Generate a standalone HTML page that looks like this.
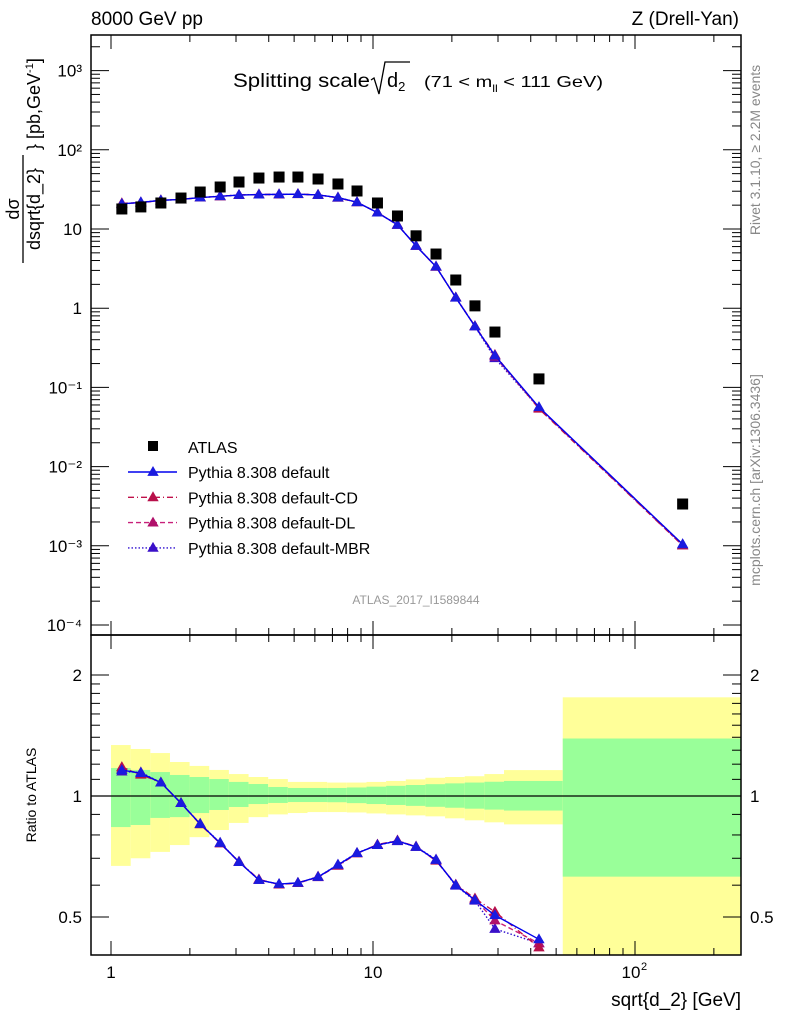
<!DOCTYPE html>
<html><head><meta charset="utf-8"><style>
html,body{margin:0;padding:0;background:#fff;}
svg{display:block;font-family:"Liberation Sans",sans-serif;}
</style></head><body>
<svg id="c" width="786" height="1024" viewBox="0 0 786 1024" xmlns="http://www.w3.org/2000/svg">
<text x="91" y="25" font-size="19">8000 GeV pp</text>
<text x="739" y="25" font-size="19" text-anchor="end">Z (Drell-Yan)</text>
<text x="233" y="87" font-size="19" textLength="137" lengthAdjust="spacingAndGlyphs">Splitting scale</text>
<path d="M371,80 L374,78 L379,94 L385,62 L410,62" fill="none" stroke="#000" stroke-width="1.3"/>
<text x="387" y="87" font-size="20">d<tspan font-size="13" dy="4">2</tspan></text>
<text x="424" y="87" font-size="16" textLength="179" lengthAdjust="spacingAndGlyphs">(71 &lt; m<tspan font-size="10" dy="5">ll</tspan><tspan dy="-5"> &lt; 111 GeV)</tspan></text>
<text transform="translate(760,150) rotate(-90)" font-size="14" fill="#888" text-anchor="middle">Rivet 3.1.10, ≥ 2.2M events</text>
<text transform="translate(760,480) rotate(-90)" font-size="14" fill="#888" text-anchor="middle">mcplots.cern.ch [arXiv:1306.3436]</text>
<text x="416" y="604" font-size="12" fill="#999" text-anchor="middle">ATLAS_2017_I1589844</text>
<g transform="translate(23,209) rotate(-90)">
<text x="0" y="-4" font-size="18" text-anchor="middle">dσ</text>
<line x1="-54" x2="54" y1="0" y2="0" stroke="#000" stroke-width="1.3"/>
<text x="0" y="17" font-size="18" text-anchor="middle">dsqrt{d_2}</text>
</g>
<text transform="translate(40,150) rotate(-90)" font-size="18">} [pb,GeV<tspan font-size="11" dy="-7">-1</tspan><tspan dy="7">]</tspan></text>
<text transform="translate(36,795) rotate(-90)" font-size="14" text-anchor="middle">Ratio to ATLAS</text>
<text x="741" y="1006" font-size="19" text-anchor="end">sqrt{d_2} [GeV]</text>
</svg>
<script>
const xCenters=[1.10,1.30,1.55,1.85,2.19,2.61,3.08,3.67,4.38,5.17,6.17,7.35,8.69,10.4,12.4,14.6,17.4,20.7,24.5,29.2,43.0,152];
const binEdges=[1.0,1.189,1.413,1.679,1.995,2.371,2.818,3.350,3.981,4.732,5.623,6.683,7.943,9.441,11.22,13.34,15.85,18.84,22.39,26.61,31.62,53.0,260];
const atlas=[17.9,19.0,21.3,24.6,29.3,33.9,39.2,44.0,45.3,45.3,42.8,37.0,30.2,21.3,14.6,8.2,4.83,2.27,1.07,0.50,0.128,0.00337];
const ratioDefault=[1.16,1.14,1.08,0.96,0.852,0.764,0.685,0.618,0.604,0.608,0.629,0.674,0.721,0.755,0.773,0.747,0.693,0.600,0.551,0.505,0.440,0.31];
const ratioCD=[1.18,1.13,1.08,0.96,0.85,0.762,0.686,0.62,0.602,0.608,0.63,0.67,0.72,0.757,0.775,0.748,0.69,0.602,0.556,0.515,0.420,0.30];
const ratioDL=[1.17,1.135,1.08,0.96,0.852,0.763,0.685,0.619,0.603,0.607,0.628,0.672,0.72,0.756,0.774,0.747,0.692,0.601,0.553,0.49,0.43,0.30];
const ratioMBR=[1.15,1.145,1.08,0.96,0.853,0.765,0.686,0.618,0.603,0.608,0.629,0.675,0.722,0.755,0.772,0.748,0.695,0.598,0.549,0.467,0.43,0.31];
const yellowUp=[1.339,1.309,1.279,1.215,1.188,1.161,1.134,1.115,1.102,1.084,1.084,1.08,1.08,1.084,1.09,1.10,1.11,1.115,1.12,1.134,1.16,1.76];
const yellowLo=[0.67,0.70,0.726,0.755,0.79,0.823,0.857,0.886,0.90,0.907,0.912,0.912,0.91,0.905,0.90,0.895,0.89,0.88,0.87,0.86,0.85,0.3];
const greenUp=[1.174,1.161,1.147,1.128,1.115,1.102,1.084,1.071,1.053,1.047,1.047,1.047,1.05,1.055,1.06,1.065,1.07,1.075,1.08,1.085,1.09,1.39];
const greenLo=[0.837,0.847,0.882,0.886,0.907,0.923,0.939,0.955,0.961,0.966,0.966,0.965,0.96,0.955,0.95,0.945,0.94,0.935,0.93,0.925,0.92,0.63];
const yTickLabels=["10⁻⁴","10⁻³","10⁻²","10⁻¹","1","10","10²","10³"];
const rTickVals=[0.5,1,2];

const NS="http://www.w3.org/2000/svg",svg=document.getElementById('c');
const L=91,R=741,T=35,M=635,B=955;
const X=v=>111+262*Math.log10(v);
const Y=v=>229-79.2*(Math.log10(v)-1);
const RY=v=>796-121*Math.log2(v);
const RMIN=0.402;
function mk(tag,at,parent){const e=document.createElementNS(NS,tag);for(const k in at)e.setAttribute(k,at[k]);(parent||svg).appendChild(e);return e;}
const defs=mk('defs',{});
const cp1=mk('clipPath',{id:'cm'},defs);mk('rect',{x:L,y:T,width:R-L,height:M-T},cp1);
const cp2=mk('clipPath',{id:'cr'},defs);mk('rect',{x:L,y:M,width:R-L,height:B-M},cp2);

const gb=mk('g',{'clip-path':'url(#cr)'});


for(let i=0;i<xCenters.length;i++){
  const x0=X(binEdges[i]),x1=X(binEdges[i+1]);
  const y1=mk('rect',{x:x0,y:RY(yellowUp[i]),width:x1-x0,height:RY(yellowLo[i])-RY(yellowUp[i]),fill:'#ffff99'},gb);
  
  
  const g1=mk('rect',{x:x0,y:RY(greenUp[i]),width:x1-x0,height:RY(greenLo[i])-RY(greenUp[i]),fill:'#99ff99'},gb);
  
  
}
mk('line',{x1:L,x2:R,y1:RY(1),y2:RY(1),stroke:'#000','stroke-width':1.3});

const series=[
 {name:'default',r:ratioDefault,col:'#0000ee',dash:'',mc:'#1a1adf'},
 {name:'default-CD',r:ratioCD,col:'#c0104a',dash:'6,3,1,3',mc:'#b8104a'},
 {name:'default-DL',r:ratioDL,col:'#c8207a',dash:'5,3',mc:'#b0106a'},
 {name:'default-MBR',r:ratioMBR,col:'#3010d0',dash:'1.5,2',mc:'#3a10c8'}
];
function tri(x,y,s,fill,parent){return mk('path',{d:`M${x},${y-s} L${x+s*0.95},${y+s*0.65} L${x-s*0.95},${y+s*0.65}Z`,fill:fill},parent);}
const gm=mk('g',{'clip-path':'url(#cm)'});
const gr=mk('g',{'clip-path':'url(#cr)'});
[...series].reverse().forEach(s=>{
  const mp=xCenters.map((x,i)=>X(x)+','+Y(atlas[i]*s.r[i])).join(' ');
  const l1=mk('polyline',{points:mp,fill:'none',stroke:s.col,'stroke-width':1.4,'stroke-dasharray':s.dash},gm);
  
  
  const idx=xCenters.map((x,i)=>i).filter(i=>s.r[i]>=RMIN*0.8);
  const rp=idx.map(i=>X(xCenters[i])+','+RY(s.r[i])).join(' ');
  const l2=mk('polyline',{points:rp,fill:'none',stroke:s.col,'stroke-width':1.4,'stroke-dasharray':s.dash},gr);
  
  
  xCenters.forEach((x,i)=>{
    const t=tri(X(x),Y(atlas[i]*s.r[i]),6,s.mc,gm);
    
    
  });
  idx.forEach(i=>{
    const t2=tri(X(xCenters[i]),RY(s.r[i]),6,s.mc,gr);
    
    
  });
});
xCenters.forEach((x,i)=>{
  const r=mk('rect',{x:X(x)-5.5,y:Y(atlas[i])-5.5,width:11,height:11,fill:'#000'},gm);
  
  
});

mk('rect',{x:L,y:T,width:R-L,height:M-T,fill:'none',stroke:'#000','stroke-width':1.5});
mk('rect',{x:L,y:M,width:R-L,height:B-M,fill:'none',stroke:'#000','stroke-width':1.5});
const ax=mk('g',{stroke:'#000','stroke-width':1});
for(let d=0;d<=2;d++)for(let k=1;k<=9;k++){
  const v=k*Math.pow(10,d);const x=X(v);if(x<L||x>R)continue;
  const len=k===1?14:7;
  mk('line',{x1:x,x2:x,y1:M,y2:M-len},ax);mk('line',{x1:x,x2:x,y1:T,y2:T+len},ax);
  mk('line',{x1:x,x2:x,y1:B,y2:B-len},ax);mk('line',{x1:x,x2:x,y1:M,y2:M+len},ax);
}
[[1,'1'],[10,'10']].forEach(([v,t])=>{const e=mk('text',{x:X(v),y:978,'font-size':17,'text-anchor':'middle'});e.textContent=t;});
{const e=mk('text',{x:X(100)-4,y:978,'font-size':17,'text-anchor':'middle'});e.textContent='10';
 const s=mk('text',{x:X(100)+6,y:970,'font-size':11});s.textContent='2';}
for(let p=-4;p<=3;p++){
  for(let k=1;k<=9;k++){
    const y=Y(k*Math.pow(10,p));if(y<T||y>M)continue;
    const len=k===1?18:9;
    mk('line',{x1:L,x2:L+len,y1:y,y2:y},ax);mk('line',{x1:R,x2:R-len,y1:y,y2:y},ax);
  }
  const e=mk('text',{x:82,y:Y(Math.pow(10,p))+6,'font-size':17,'text-anchor':'end'});
  e.textContent=yTickLabels[p+4];
  
  
}
[0.5,0.6,0.7,0.8,0.9,1,1.1,1.2,1.3,1.4,1.5,1.6,1.7,1.8,1.9,2].forEach(v=>{
  const y=RY(v);const maj=rTickVals.includes(v);const len=maj?18:9;
  mk('line',{x1:L,x2:L+len,y1:y,y2:y},ax);mk('line',{x1:R,x2:R-len,y1:y,y2:y},ax);
});
rTickVals.forEach(v=>{
  const e=mk('text',{x:82,y:RY(v)+6,'font-size':17,'text-anchor':'end'});e.textContent=String(v);
  
  const e2=mk('text',{x:750,y:RY(v)+6,'font-size':17});e2.textContent=String(v);
  
});
const lg=mk('g',{});


mk('rect',{x:148,y:441,width:10,height:10,fill:'#000'},lg);
let t0=mk('text',{x:188,y:453,'font-size':16},lg);t0.textContent='ATLAS';
series.forEach((s,i)=>{
  const y=472+i*25.3;
  mk('line',{x1:128,x2:177,y1:y,y2:y,stroke:s.col,'stroke-width':1.4,'stroke-dasharray':s.dash},lg);
  tri(153,y,6,s.mc,lg);
  const t=mk('text',{x:188,y:y+6,'font-size':16},lg);t.textContent='Pythia 8.308 '+s.name;
  
  
});
</script>
</body></html>
